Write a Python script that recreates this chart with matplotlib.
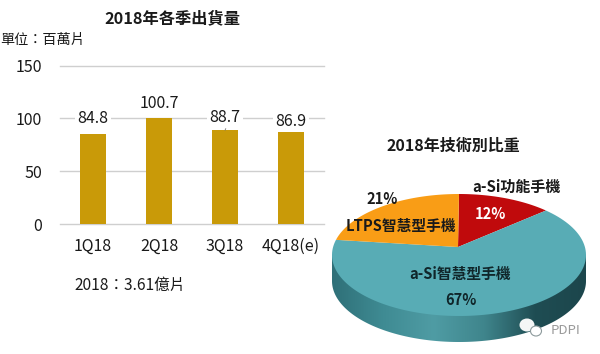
import matplotlib
matplotlib.use("Agg")
import matplotlib.pyplot as plt
import numpy as np
from matplotlib.colors import LinearSegmentedColormap
from matplotlib.patches import Ellipse, Polygon

plt.rcParams["font.family"] = ["Noto Sans CJK TC", "DejaVu Sans"]

# Shipments per quarter (millions of panels)
quarters = ["1Q18", "2Q18", "3Q18", "4Q18(e)"]
shipments = [84.8, 100.7, 88.7, 86.9]
shipment_labels = ["84.8", "100.7", "88.7", "86.9"]
y_ticks = [0, 50, 100, 150]

# Technology share, clockwise from twelve o'clock
tech_names = ["a-Si功能手機", "a-Si智慧型手機", "LTPS智慧型手機"]
tech_shares = [12, 67, 21]
tech_share_labels = ["12%", "67%", "21%"]

W, H = 600, 354
TEXT = "#1a1a1a"
BAR = "#C99A08"
GRID = "#cfcfcf"
TECH_COLORS = ["#C00A0C", "#58ACB5", "#F99D16"]
SIDE_CMAP = LinearSegmentedColormap.from_list(
    "side", ["#2f7078", "#3f8b93", "#4f9ca4", "#3f858c", "#1f4d53", "#1c464c"]
)


def px_rect(left, top, right, bottom):
    return [left / W, 1 - bottom / H, (right - left) / W, (bottom - top) / H]


fig = plt.figure(figsize=(W / 100, H / 100), dpi=100, facecolor="white")


def fig_text(x, y, s, **kwargs):
    fig.text(x / W, 1 - y / H, s, va="center", color=TEXT, **kwargs)


# Bar chart
ax = fig.add_axes(px_rect(60, 65.5, 324, 224))
ax.set_xlim(-0.5, 3.5)
ax.set_ylim(0, 150)
ax.bar(range(len(quarters)), shipments, width=0.4, color=BAR, zorder=2)
ax.set_yticks(y_ticks)
ax.set_xticks(range(len(quarters)), quarters)
ax.grid(axis="y", color=GRID, lw=1.0, zorder=0)
ax.tick_params(length=0, labelsize=11.5, labelcolor=TEXT)
ax.tick_params(axis="x", pad=10)
ax.tick_params(axis="y", pad=13)
for side in ax.spines.values():
    side.set_visible(False)
for child in ax.yaxis.get_gridlines():
    child.set_clip_on(False)

label_gaps = [11.5, 10.5, 9.5, 8]
for i, (val, lab, gap) in enumerate(zip(shipments, shipment_labels, label_gaps)):
    ax.annotate(
        lab, (i, val), xytext=(0, gap), textcoords="offset points",
        ha="center", va="center", fontsize=11.5, color=TEXT, zorder=4,
        bbox=dict(facecolor="white", edgecolor="none", pad=1.5),
    )
# little leader line on the 3Q18 label
ax.annotate("", (2, shipments[2]), xytext=(2.03, shipments[2] + 4),
            arrowprops=dict(arrowstyle="-", color="#777777", lw=0.6), zorder=5)

fig_text(172, 18, "2018年各季出貨量", ha="center", fontsize=11.7, fontweight="bold")
fig_text(0, 40, "單位：百萬片", ha="left", fontsize=10.2)
fig_text(74, 285, "2018：3.61億片", ha="left", fontsize=11.2)
fig_text(453, 146, "2018年技術別比重", ha="center", fontsize=11.5, fontweight="bold")

# Fake-3D pie, drawn in pixel coordinates
pie = fig.add_axes([0, 0, 1, 1], facecolor="none")
pie.set_xlim(0, W)
pie.set_ylim(H, 0)
pie.axis("off")

cx, cy, rx, ry = 459, 255, 127, 61
depth = 26
apex = (458, 247)

# side wall: gradient clipped to the lower half of the ellipse, extruded down
t = np.linspace(0, np.pi, 200)
lower = np.column_stack([cx + rx * np.cos(t), cy + depth + ry * np.sin(t)])
wall = Polygon(
    np.vstack([lower, [[cx - rx, cy], [cx + rx, cy]]]),
    closed=True, facecolor="none", edgecolor="none",
)
pie.add_patch(wall)
gradient = pie.imshow(
    np.linspace(0, 1, 256).reshape(1, -1), cmap=SIDE_CMAP, aspect="auto",
    extent=(cx - rx, cx + rx, cy + depth + ry, cy), zorder=1,
)
gradient.set_clip_path(wall)
pie.set_xlim(0, W)
pie.set_ylim(H, 0)

# top face: one polygon per slice, angles taken from the shares
edges = np.cumsum([0] + tech_shares) / sum(tech_shares) * 2 * np.pi
for start, end, color in zip(edges[:-1], edges[1:], TECH_COLORS):
    a = np.linspace(start, end, 120)
    arc = np.column_stack([cx + rx * np.sin(a), cy - ry * np.cos(a)])
    pie.add_patch(Polygon(np.vstack([[apex], arc]), closed=True, facecolor=color,
                          edgecolor="none", zorder=2))


def pie_text(x, y, s, color=TEXT, size=10.6):
    pie.text(x, y, s, ha="center", va="center", color=color, fontsize=size,
             fontweight="bold", zorder=4)


pie_text(516, 187, tech_names[0], size=10.8)
pie_text(490, 214, tech_share_labels[0], color="white", size=10.5)
pie_text(460, 274, tech_names[1], color="#10262a")
pie_text(461, 300, tech_share_labels[1], color="#10262a", size=10.5)
pie_text(401, 226, tech_names[2])
pie_text(382, 199, tech_share_labels[2], size=10.5)

# watermark
pie.add_patch(Ellipse((527, 325), 15, 13, facecolor="#f4f6f6", edgecolor="none", zorder=5))
pie.add_patch(Ellipse((536, 331), 11, 10, facecolor="#ffffff", edgecolor="#8d9a9c",
                      lw=0.8, zorder=6))
pie.text(565.5, 330, "PDPI", ha="center", va="center", fontsize=9.5,
         color="#9a9a9a", zorder=5)

fig.savefig("out.png", dpi=100, facecolor="white")
